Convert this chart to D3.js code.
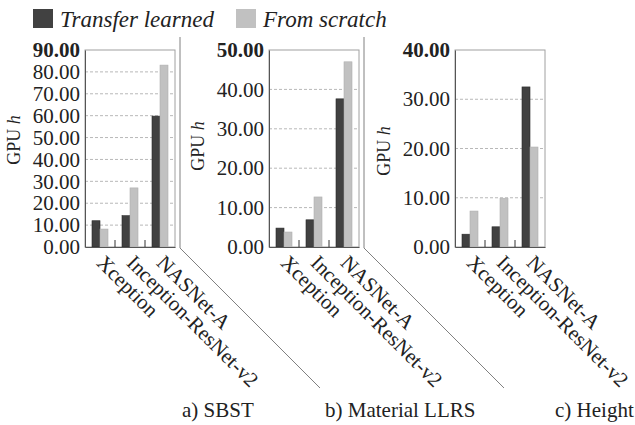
<!DOCTYPE html>
<html>
<head>
<meta charset="utf-8">
<script src="https://cdn.jsdelivr.net/npm/d3@7"></script>
<style>
  html, body { margin: 0; padding: 0; background: #fff; }
  svg { display: block; }
  svg text { font-family: 'Liberation Serif', 'Times New Roman', serif; }
</style>
</head>
<body>
<svg id="chart" width="635" height="425"></svg>
<script>
// Training cost (GPU hours) of three networks on three tasks
const categories = ["Xception", "Inception-ResNet-v2", "NASNet-A"];
const panelTitles = ["a) SBST", "b) Material LLRS", "c) Height"];
const seriesNames = ["Transfer learned", "From scratch"];
const transferLearned = [
  [12.0, 14.3, 59.8],
  [4.8, 6.9, 37.6],
  [2.6, 4.1, 32.5]
];
const fromScratch = [
  [8.2, 27.0, 83.1],
  [3.8, 12.7, 47.0],
  [7.3, 9.9, 20.3]
];
const yMaxima = [90, 50, 40];
const yStep = 10;

const FONT = "'Liberation Serif', 'Times New Roman', serif";
const colors = { dark: "#414141", light: "#c1c1c1" };

const svg = d3.select("#chart");

// Legend
const legend = svg.append("g");
const legendX = [33, 236];
seriesNames.forEach((name, i) => {
  legend.append("rect")
    .attr("x", legendX[i]).attr("y", 9)
    .attr("width", 20).attr("height", 19)
    .attr("fill", i === 0 ? colors.dark : colors.light);
  legend.append("text")
    .attr("x", legendX[i] + 27).attr("y", 27)
    .style("font-family", FONT)
    .attr("font-size", 23).attr("font-style", "italic")
    .attr("fill", "#222")
    .text(name);
});

// Panel geometry
const panelLeft = [85, 269, 455];
const plotW = 90;
const plotTop = 50, plotBottom = 247;
const dividerX = [180, 364];
const titleX = [182, 325, 555];
const yTitleMid = [140, 146, 151];

panelLeft.forEach((left, p) => {
  const g = svg.append("g");
  const x = d3.scaleBand().domain(categories).range([left, left + plotW]).padding(0);
  const inner = d3.scaleBand().domain(seriesNames).range([0, x.bandwidth()])
    .paddingInner(0).paddingOuter(0.875);
  const y = d3.scaleLinear().domain([0, yMaxima[p]]).range([plotBottom, plotTop]);
  const ticks = d3.range(0, yMaxima[p] + 0.001, yStep);

  // Dashed gridlines
  g.selectAll(".grid").data(ticks.filter(t => t > 0 && t < yMaxima[p]))
    .enter().append("line")
    .attr("x1", left).attr("x2", left + plotW)
    .attr("y1", d => y(d)).attr("y2", d => y(d))
    .attr("stroke", "#b8b8b8").attr("stroke-width", 1)
    .attr("stroke-dasharray", "3,2");

  // Frame
  g.append("rect")
    .attr("x", left).attr("y", plotTop)
    .attr("width", plotW).attr("height", plotBottom - plotTop)
    .attr("fill", "none").attr("stroke", "#a0a0a0").attr("stroke-width", 1);

  // Bars
  categories.forEach((c, i) => {
    [transferLearned[p][i], fromScratch[p][i]].forEach((v, s) => {
      g.append("rect")
        .attr("x", x(c) + inner(seriesNames[s]))
        .attr("y", y(v))
        .attr("width", inner.bandwidth())
        .attr("height", plotBottom - y(v))
        .attr("fill", s === 0 ? colors.dark : colors.light)
        .attr("stroke", s === 0 ? "#2a2a2a" : "#b0b0b0")
        .attr("stroke-width", 0.6);
    });
  });

  // Axes
  const yAxis = d3.axisLeft(y).tickValues(ticks).tickSize(0).tickPadding(5)
    .tickFormat(d3.format(".2f"));
  const ya = g.append("g").attr("transform", `translate(${left},0)`).call(yAxis)
    .attr("font-family", null);
  ya.select(".domain").attr("stroke", "#555");
  ya.selectAll("text")
    .style("font-family", FONT)
    .attr("font-size", 21).attr("fill", "#222")
    .attr("font-weight", d => d === yMaxima[p] ? "bold" : "normal");

  const xAxis = d3.axisBottom(x).tickSize(0).tickFormat("");
  const xa = g.append("g").attr("transform", `translate(0,${plotBottom})`).call(xAxis);
  xa.select(".domain").attr("stroke", "#555");

  // Short separators between category groups
  g.selectAll(".sep").data(categories.slice(1)).enter().append("line")
    .attr("x1", d => x(d)).attr("x2", d => x(d))
    .attr("y1", plotBottom).attr("y2", plotBottom - 7)
    .attr("stroke", "#333").attr("stroke-width", 1);

  // Rotated category labels
  g.selectAll(".cat").data(categories).enter().append("text")
    .attr("transform", d => `translate(${x(d) + x.bandwidth() / 2 - 4.5},${plotBottom + 17}) rotate(45)`)
    .style("font-family", FONT)
    .attr("font-size", 21).attr("fill", "#222")
    .text(d => d);

  // Y title
  g.append("text")
    .attr("transform", `translate(${left - 65},${yTitleMid[p]}) rotate(-90)`)
    .attr("text-anchor", "middle")
    .style("font-family", FONT)
    .attr("font-size", 18).attr("fill", "#222")
    .html(`GPU <tspan font-style="italic">h</tspan>`);

  // Panel caption
  g.append("text")
    .attr("x", titleX[p]).attr("y", 417)
    .style("font-family", FONT)
    .attr("font-size", 21).attr("fill", "#222")
    .text(panelTitles[p]);
});

// Dividers between panels: vertical, then bending diagonally down-right
dividerX.forEach(dx => {
  svg.append("path")
    .attr("d", d3.line()([[dx, 37], [dx, 248], [dx + 140, 388]]))
    .attr("fill", "none").attr("stroke", "#808080").attr("stroke-width", 1);
});
</script>
</body>
</html>
